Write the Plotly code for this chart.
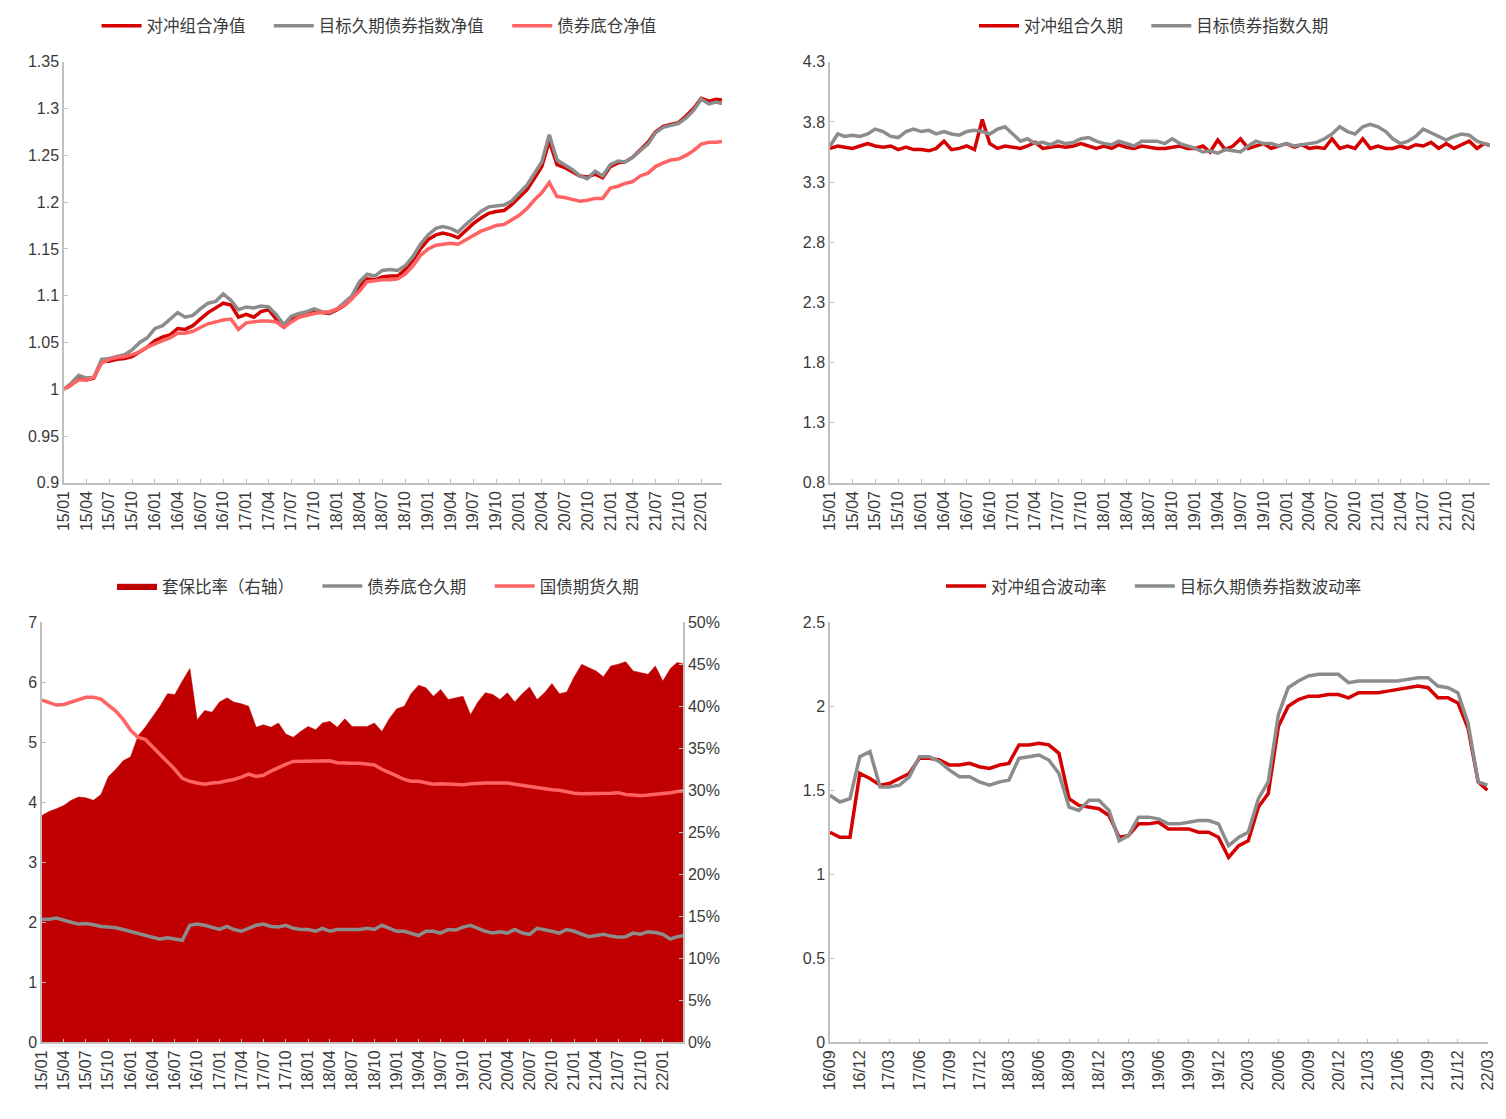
import pandas as pd
import plotly.graph_objects as go

# ---------------- data ----------------
start_main = "2015-01-01"   # monthly, 15/01 .. 22/04
start_vol = "2016-09-01"    # monthly, 16/09 .. 22/03

nav_hedge = [1.000, 1.005, 1.013, 1.010, 1.012, 1.030, 1.030, 1.032, 1.033, 1.035, 1.040, 1.045,
             1.052, 1.056, 1.058, 1.065, 1.064, 1.068, 1.075, 1.082, 1.087, 1.092, 1.090, 1.077,
             1.080, 1.077, 1.083, 1.085, 1.075, 1.067, 1.076, 1.078, 1.080, 1.083, 1.082, 1.081,
             1.085, 1.090, 1.097, 1.110, 1.118, 1.117, 1.120, 1.121, 1.121, 1.128, 1.138, 1.150,
             1.160, 1.165, 1.167, 1.165, 1.162, 1.170, 1.177, 1.183, 1.188, 1.190, 1.191, 1.197,
             1.205, 1.213, 1.225, 1.238, 1.265, 1.240, 1.237, 1.233, 1.228, 1.227, 1.230, 1.226,
             1.238, 1.242, 1.243, 1.248, 1.256, 1.264, 1.275, 1.281, 1.283, 1.285, 1.292, 1.300,
             1.311, 1.308, 1.310, 1.309]
nav_index = [1.000, 1.007, 1.015, 1.012, 1.013, 1.032, 1.033, 1.035, 1.037, 1.042, 1.050, 1.055,
             1.065, 1.068, 1.075, 1.082, 1.077, 1.079, 1.086, 1.092, 1.094, 1.102, 1.095, 1.085,
             1.088, 1.087, 1.089, 1.088, 1.080, 1.069, 1.078, 1.081, 1.083, 1.086, 1.083, 1.082,
             1.086, 1.093, 1.100, 1.115, 1.123, 1.121, 1.127, 1.128, 1.127, 1.132, 1.142, 1.155,
             1.165, 1.172, 1.174, 1.172, 1.168, 1.176, 1.183, 1.190, 1.195, 1.196, 1.197, 1.201,
             1.210, 1.218, 1.230, 1.243, 1.272, 1.245, 1.240, 1.235, 1.228, 1.225, 1.233, 1.228,
             1.240, 1.244, 1.243, 1.248, 1.255, 1.262, 1.274, 1.280, 1.282, 1.284, 1.290, 1.298,
             1.310, 1.305, 1.307, 1.305]
nav_base = [1.000, 1.005, 1.010, 1.010, 1.013, 1.028, 1.032, 1.034, 1.035, 1.037, 1.040, 1.045,
            1.048, 1.052, 1.055, 1.060, 1.060, 1.062, 1.066, 1.070, 1.072, 1.074, 1.075, 1.064,
            1.071, 1.072, 1.073, 1.073, 1.072, 1.066, 1.072, 1.077, 1.079, 1.081, 1.082, 1.083,
            1.086, 1.090, 1.097, 1.105, 1.115, 1.116, 1.117, 1.117, 1.118, 1.123, 1.132, 1.143,
            1.150, 1.154, 1.155, 1.156, 1.155, 1.160, 1.165, 1.169, 1.172, 1.175, 1.176, 1.181,
            1.186, 1.193, 1.202, 1.210, 1.221, 1.206, 1.205, 1.203, 1.201, 1.202, 1.204, 1.204,
            1.215, 1.217, 1.220, 1.222, 1.228, 1.231, 1.238, 1.242, 1.245, 1.246, 1.250, 1.255,
            1.262, 1.264, 1.264, 1.265]

dur_hedge = [3.58, 3.60, 3.59, 3.58, 3.60, 3.62, 3.60, 3.59, 3.60, 3.57, 3.59, 3.57,
             3.57, 3.56, 3.58, 3.64, 3.57, 3.58, 3.60, 3.57, 3.82, 3.62, 3.58, 3.60,
             3.59, 3.58, 3.60, 3.63, 3.58, 3.59, 3.60, 3.59, 3.60, 3.62, 3.60, 3.58,
             3.60, 3.58, 3.61, 3.59, 3.58, 3.60, 3.59, 3.58, 3.58, 3.59, 3.60, 3.58,
             3.58, 3.60, 3.55, 3.65, 3.57, 3.60, 3.66, 3.58, 3.60, 3.62, 3.58, 3.60,
             3.62, 3.59, 3.61, 3.58, 3.59, 3.58, 3.66, 3.58, 3.60, 3.58, 3.66, 3.58,
             3.60, 3.58, 3.58, 3.60, 3.58, 3.61, 3.60, 3.63, 3.58, 3.62, 3.58, 3.61,
             3.64, 3.58, 3.62, 3.60]
dur_index = [3.60, 3.70, 3.68, 3.69, 3.68, 3.70, 3.74, 3.72, 3.68, 3.67, 3.72, 3.74,
             3.72, 3.73, 3.70, 3.72, 3.70, 3.69, 3.72, 3.73, 3.72, 3.70, 3.74, 3.76,
             3.70, 3.64, 3.66, 3.62, 3.63, 3.61, 3.64, 3.62, 3.63, 3.66, 3.67, 3.64,
             3.62, 3.61, 3.64, 3.62, 3.60, 3.64, 3.64, 3.64, 3.62, 3.66, 3.62, 3.60,
             3.58, 3.55, 3.56, 3.54, 3.57, 3.56, 3.55, 3.60, 3.64, 3.62, 3.62, 3.60,
             3.62, 3.60, 3.61, 3.62, 3.63, 3.66, 3.70, 3.76, 3.72, 3.70, 3.76, 3.78,
             3.76, 3.72, 3.66, 3.62, 3.64, 3.68, 3.74, 3.71, 3.68, 3.65, 3.68, 3.70,
             3.69, 3.64, 3.62, 3.60]

hedge_ratio = [0.270, 0.275, 0.278, 0.282, 0.288, 0.292, 0.291, 0.288, 0.295, 0.316, 0.325, 0.335,
               0.340, 0.365, 0.375, 0.388, 0.400, 0.415, 0.414, 0.430, 0.445, 0.384, 0.395, 0.393,
               0.405, 0.410, 0.405, 0.403, 0.400, 0.375, 0.378, 0.375, 0.380, 0.367, 0.363, 0.370,
               0.376, 0.372, 0.380, 0.382, 0.375, 0.385, 0.376, 0.376, 0.376, 0.380, 0.370, 0.385,
               0.397, 0.400, 0.415, 0.425, 0.422, 0.412, 0.420, 0.408, 0.410, 0.412, 0.390, 0.405,
               0.416, 0.414, 0.408, 0.416, 0.405, 0.415, 0.423, 0.408, 0.416, 0.427, 0.415, 0.417,
               0.435, 0.450, 0.446, 0.442, 0.435, 0.448, 0.450, 0.453, 0.442, 0.440, 0.438, 0.448,
               0.430, 0.445, 0.452, 0.450]
dur_base = [2.05, 2.05, 2.07, 2.03, 2.00, 1.97, 1.98, 1.96, 1.93, 1.92, 1.91, 1.88,
            1.85, 1.82, 1.78, 1.75, 1.72, 1.74, 1.72, 1.70, 1.95, 1.97, 1.95, 1.92,
            1.88, 1.93, 1.88, 1.85, 1.90, 1.95, 1.97, 1.93, 1.92, 1.95, 1.90, 1.88,
            1.88, 1.85, 1.90, 1.85, 1.88, 1.88, 1.88, 1.88, 1.90, 1.88, 1.95, 1.90,
            1.85, 1.85, 1.82, 1.78, 1.85, 1.85, 1.82, 1.88, 1.87, 1.92, 1.95, 1.90,
            1.85, 1.82, 1.84, 1.82, 1.88, 1.82, 1.80, 1.90, 1.88, 1.85, 1.82, 1.88,
            1.85, 1.80, 1.76, 1.78, 1.80, 1.77, 1.75, 1.76, 1.82, 1.80, 1.84, 1.83,
            1.80, 1.72, 1.76, 1.78]
dur_futures = [5.70, 5.65, 5.62, 5.63, 5.67, 5.72, 5.75, 5.75, 5.72, 5.62, 5.52, 5.38,
               5.20, 5.08, 5.05, 4.92, 4.80, 4.67, 4.55, 4.40, 4.35, 4.32, 4.30, 4.32,
               4.33, 4.36, 4.38, 4.42, 4.47, 4.43, 4.45, 4.52, 4.58, 4.63, 4.68, 4.68,
               4.68, 4.68, 4.68, 4.69, 4.66, 4.65, 4.65, 4.65, 4.64, 4.62, 4.55, 4.50,
               4.44, 4.38, 4.35, 4.35, 4.32, 4.30, 4.31, 4.30, 4.29, 4.29, 4.31, 4.32,
               4.32, 4.32, 4.32, 4.32, 4.30, 4.28, 4.26, 4.24, 4.22, 4.21, 4.20, 4.17,
               4.15, 4.14, 4.14, 4.14, 4.14, 4.15, 4.16, 4.13, 4.12, 4.11, 4.12, 4.13,
               4.14, 4.16, 4.18, 4.19]

vol_hedge = [1.25, 1.22, 1.22, 1.60, 1.57, 1.53, 1.54, 1.57, 1.60, 1.69, 1.69, 1.68,
             1.65, 1.65, 1.66, 1.64, 1.63, 1.65, 1.66, 1.77, 1.77, 1.78, 1.77, 1.72,
             1.45, 1.41, 1.40, 1.39, 1.35, 1.22, 1.23, 1.30, 1.30, 1.31, 1.27, 1.27,
             1.27, 1.25, 1.25, 1.22, 1.10, 1.17, 1.20, 1.40, 1.48, 1.88, 2.00, 2.04,
             2.06, 2.06, 2.07, 2.07, 2.05, 2.08, 2.08, 2.08, 2.09, 2.10, 2.11, 2.12,
             2.11, 2.05, 2.05, 2.02, 1.87, 1.55, 1.50]
vol_index = [1.47, 1.43, 1.45, 1.70, 1.73, 1.52, 1.52, 1.53, 1.58, 1.70, 1.70, 1.67,
             1.62, 1.58, 1.58, 1.55, 1.53, 1.55, 1.56, 1.69, 1.70, 1.71, 1.68, 1.60,
             1.40, 1.38, 1.44, 1.44, 1.38, 1.20, 1.23, 1.34, 1.34, 1.33, 1.30, 1.30,
             1.31, 1.32, 1.32, 1.30, 1.17, 1.22, 1.25, 1.45, 1.55, 1.95, 2.11, 2.15,
             2.18, 2.19, 2.19, 2.19, 2.14, 2.15, 2.15, 2.15, 2.15, 2.15, 2.16, 2.17,
             2.17, 2.12, 2.11, 2.08, 1.90, 1.55, 1.53]

# ---------------- style ----------------
RED = "#D50000"
GREY = "#8C8C8C"
SALMON = "#FF6363"
AREA = "#C00000"
AXIS = "#BFBFBF"
TXT = "#3A3A3A"
FONT = "Liberation Sans, Arial, Noto Sans CJK SC, sans-serif"
GAP = "\u00a0" * 4           # extra spacing between legend entries

x_main = pd.date_range(start_main, periods=len(nav_hedge), freq="MS")
x_vol = pd.date_range(start_vol, periods=len(vol_hedge), freq="MS")

OFF = 8                      # default page body margin
W, H = 1506 - OFF, 1119 - 2 * OFF


def xd(a, b):
    return [(a - OFF) / W, (b - OFF) / W]


def yd(top, bot):
    return [1 - (bot - OFF) / H, 1 - (top - OFF) / H]


def px(x):
    return (x - OFF) / W


def py(y):
    return 1 - (y - OFF) / H


fig = go.Figure()


def line(x, y, name, color, xa, ya, lg, w=3.5):
    fig.add_trace(go.Scatter(x=x, y=y, name=name, mode="lines", xaxis=xa, yaxis=ya,
                             legend=lg, line=dict(color=color, width=w)))


# top-left
line(x_main, nav_hedge, "对冲组合净值" + GAP, RED, "x", "y", "legend")
line(x_main, nav_index, "目标久期债券指数净值" + GAP, GREY, "x", "y", "legend")
line(x_main, nav_base, "债券底仓净值", SALMON, "x", "y", "legend")
# top-right
line(x_main, dur_hedge, "对冲组合久期" + GAP, RED, "x2", "y2", "legend2")
line(x_main, dur_index, "目标债券指数久期", GREY, "x2", "y2", "legend2")
# bottom-left
fig.add_trace(go.Scatter(x=x_main, y=hedge_ratio, name="套保比率（右轴）" + GAP, mode="lines",
                         xaxis="x3", yaxis="y3", legend="legend3", fill="tozeroy",
                         fillcolor=AREA, line=dict(color=AREA, width=0.5)))
line(x_main, dur_base, "债券底仓久期" + GAP, GREY, "x3", "y4", "legend3")
line(x_main, dur_futures, "国债期货久期", SALMON, "x3", "y4", "legend3")
# bottom-right
line(x_vol, vol_hedge, "对冲组合波动率" + GAP, RED, "x4", "y5", "legend4")
line(x_vol, vol_index, "目标久期债券指数波动率", GREY, "x4", "y5", "legend4")

xcommon = dict(type="date", tickformat="%y/%m", dtick="M3", tickangle=-90,
               showgrid=False, zeroline=False, showline=True, linecolor=AXIS, linewidth=1.5,
               ticks="inside", ticklen=4, tickcolor=AXIS, tickwidth=1.2,
               ticklabeloverflow="allow",
               tickfont=dict(family=FONT, size=16, color=TXT), automargin=False)
ycommon = dict(showgrid=False, zeroline=False, showline=True, linecolor=AXIS, linewidth=1.5,
               ticks="inside", ticklen=4, tickcolor=AXIS, tickwidth=1.2,
               tickfont=dict(family=FONT, size=16, color=TXT), automargin=False)

main_range = ["2015-01-01", "2022-03-25"]

fig.update_layout(
    xaxis=dict(xcommon, domain=xd(64, 722), anchor="y", range=main_range, tick0="2015-01-01"),
    yaxis=dict(ycommon, domain=yd(57, 480), anchor="x", range=[0.9, 1.35], dtick=0.05, tick0=0.9),
    xaxis2=dict(xcommon, domain=xd(830, 1490), anchor="y2", range=main_range, tick0="2015-01-01"),
    yaxis2=dict(ycommon, domain=yd(57, 480), anchor="x2", range=[0.8, 4.3], dtick=0.5, tick0=0.8),
    xaxis3=dict(xcommon, domain=xd(42, 683), anchor="y4", range=main_range, tick0="2015-01-01"),
    yaxis3=dict(ycommon, domain=yd(620, 1042), anchor="x3", side="right", range=[0, 0.5],
                dtick=0.05, tickformat=".0%"),
    yaxis4=dict(ycommon, domain=yd(620, 1042), anchor="x3", overlaying="y3", side="left",
                range=[0, 7], dtick=1),
    xaxis4=dict(xcommon, domain=xd(830, 1488), anchor="y5", range=["2016-09-01", "2022-03-03"],
                tick0="2016-09-01"),
    yaxis5=dict(ycommon, domain=yd(620, 1042), anchor="x4", range=[0, 2.5], dtick=0.5, tick0=0),
    margin=dict(l=0, r=0, t=0, b=0),
    width=W, height=H,
    paper_bgcolor="white", plot_bgcolor="white",
    font=dict(family=FONT, color=TXT),
    showlegend=True,
)

leg = dict(orientation="h", xanchor="center", yanchor="middle", bgcolor="rgba(0,0,0,0)",
           font=dict(family=FONT, size=16.5, color=TXT), itemwidth=40, tracegroupgap=0)
fig.update_layout(
    legend=dict(leg, x=px(379), y=py(21)),
    legend2=dict(leg, x=px(1154), y=py(21)),
    legend3=dict(leg, x=px(378), y=py(584)),
    legend4=dict(leg, x=px(1154), y=py(584)),
)

fig.write_html("out.html")
